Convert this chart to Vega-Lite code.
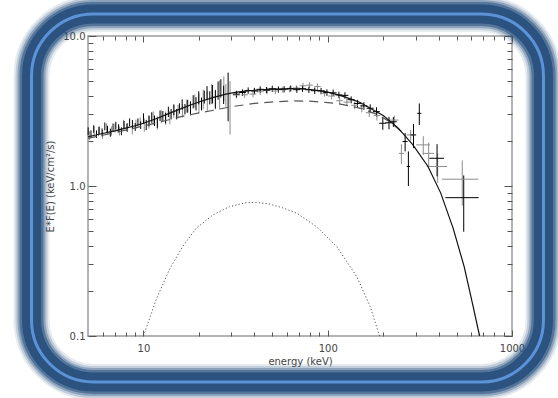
{
  "$schema": "https://vega.github.io/schema/vega-lite/v6.json",
  "width": 424,
  "height": 300,
  "autosize": {"type": "none"},
  "padding": {"left": 88, "top": 36, "right": 46, "bottom": 62},
  "background": "white",
  "config": {
    "view": {"stroke": "#9a9a9a", "strokeWidth": 1.5},
    "axis": {"domain": false, "grid": false, "zindex": 1, "labelFont": "DejaVu Sans", "titleFont": "DejaVu Sans", "labelFontSize": 10, "titleFontSize": 10, "titleFontWeight": "normal", "labelColor": "#444444", "titleColor": "#444444", "tickColor": "#555555", "tickWidth": 1, "labelFlush": false, "labelOverlap": false}
  },
  "datasets": {
    "frame": [{"name": "frame"}],
    "total": [
      {"e": 5, "f": 2.13}, {"e": 6, "f": 2.24}, {"e": 7, "f": 2.33}, {"e": 8, "f": 2.43}, {"e": 9, "f": 2.52}, {"e": 10, "f": 2.62}, {"e": 12, "f": 2.84}, {"e": 14, "f": 3.07}, {"e": 16, "f": 3.28}, {"e": 18, "f": 3.47}, {"e": 20, "f": 3.63}, {"e": 24, "f": 3.9}, {"e": 28, "f": 4.1}, {"e": 32, "f": 4.22}, {"e": 40, "f": 4.35}, {"e": 50, "f": 4.42}, {"e": 60, "f": 4.45}, {"e": 70, "f": 4.45}, {"e": 80, "f": 4.4}, {"e": 90, "f": 4.32}, {"e": 100, "f": 4.22}, {"e": 110, "f": 4.1}, {"e": 120, "f": 3.97}, {"e": 135, "f": 3.78}, {"e": 150, "f": 3.6}, {"e": 170, "f": 3.3}, {"e": 200, "f": 2.95}, {"e": 240, "f": 2.45}, {"e": 290, "f": 1.88}, {"e": 350, "f": 1.35}, {"e": 410, "f": 0.9}, {"e": 480, "f": 0.52}, {"e": 550, "f": 0.29}, {"e": 610, "f": 0.165}, {"e": 667, "f": 0.1}
    ],
    "comp": [
      {"e": 5, "f": 2.08}, {"e": 6, "f": 2.18}, {"e": 7, "f": 2.27}, {"e": 8, "f": 2.36}, {"e": 10, "f": 2.51}, {"e": 12, "f": 2.65}, {"e": 14, "f": 2.78}, {"e": 16, "f": 2.9}, {"e": 20, "f": 3.07}, {"e": 24, "f": 3.2}, {"e": 30, "f": 3.38}, {"e": 40, "f": 3.55}, {"e": 53, "f": 3.65}, {"e": 65, "f": 3.69}, {"e": 80, "f": 3.68}, {"e": 100, "f": 3.6}, {"e": 112, "f": 3.55}, {"e": 130, "f": 3.43}, {"e": 150, "f": 3.3}, {"e": 170, "f": 3.12}, {"e": 190, "f": 2.97}, {"e": 220, "f": 2.64}, {"e": 250, "f": 2.32}
    ],
    "refl": [
      {"e": 10, "f": 0.1}, {"e": 11.7, "f": 0.174}, {"e": 13.8, "f": 0.276}, {"e": 16.3, "f": 0.394}, {"e": 19.3, "f": 0.522}, {"e": 23.8, "f": 0.641}, {"e": 29.3, "f": 0.728}, {"e": 36, "f": 0.774}, {"e": 41, "f": 0.778}, {"e": 48, "f": 0.759}, {"e": 57, "f": 0.715}, {"e": 68, "f": 0.658}, {"e": 87, "f": 0.535}, {"e": 112, "f": 0.394}, {"e": 144, "f": 0.248}, {"e": 170, "f": 0.157}, {"e": 191, "f": 0.1}
    ],
    "pts": [
      {"s": "B", "e": 5.1, "de": 0, "f": 2.17, "df": 0.15},
      {"s": "B", "e": 5.4, "de": 0, "f": 2.34, "df": 0.16},
      {"s": "B", "e": 5.7, "de": 0, "f": 2.31, "df": 0.16},
      {"s": "B", "e": 6.0, "de": 0, "f": 2.21, "df": 0.15},
      {"s": "B", "e": 6.3, "de": 0, "f": 2.44, "df": 0.17},
      {"s": "B", "e": 6.7, "de": 0, "f": 2.33, "df": 0.16},
      {"s": "B", "e": 7.0, "de": 0, "f": 2.44, "df": 0.17},
      {"s": "B", "e": 7.4, "de": 0, "f": 2.33, "df": 0.16},
      {"s": "B", "e": 7.8, "de": 0, "f": 2.58, "df": 0.18},
      {"s": "B", "e": 8.2, "de": 0, "f": 2.46, "df": 0.17},
      {"s": "B", "e": 8.7, "de": 0, "f": 2.38, "df": 0.17},
      {"s": "B", "e": 9.1, "de": 0, "f": 2.59, "df": 0.18},
      {"s": "B", "e": 9.6, "de": 0, "f": 2.68, "df": 0.19},
      {"s": "B", "e": 10.1, "de": 0, "f": 2.56, "df": 0.26},
      {"s": "B", "e": 10.7, "de": 0, "f": 2.69, "df": 0.27},
      {"s": "B", "e": 11.3, "de": 0, "f": 2.85, "df": 0.29},
      {"s": "B", "e": 11.9, "de": 0, "f": 2.65, "df": 0.27},
      {"s": "B", "e": 12.5, "de": 0, "f": 2.91, "df": 0.29},
      {"s": "B", "e": 13.2, "de": 0, "f": 2.85, "df": 0.29},
      {"s": "B", "e": 13.9, "de": 0, "f": 2.87, "df": 0.29},
      {"s": "B", "e": 14.6, "de": 0, "f": 3.17, "df": 0.32},
      {"s": "B", "e": 15.4, "de": 0, "f": 3.15, "df": 0.32},
      {"s": "B", "e": 16.3, "de": 0, "f": 3.18, "df": 0.32},
      {"s": "B", "e": 17.1, "de": 0, "f": 3.42, "df": 0.34},
      {"s": "B", "e": 18.0, "de": 0, "f": 3.27, "df": 0.33},
      {"s": "B", "e": 19.0, "de": 0, "f": 3.7, "df": 0.37},
      {"s": "B", "e": 20.0, "de": 0, "f": 3.59, "df": 0.54},
      {"s": "B", "e": 21.1, "de": 0, "f": 3.82, "df": 0.57},
      {"s": "B", "e": 22.2, "de": 0, "f": 3.74, "df": 0.56},
      {"s": "B", "e": 23.4, "de": 0, "f": 4.14, "df": 0.62},
      {"s": "B", "e": 24.6, "de": 0, "f": 3.82, "df": 0.57},
      {"s": "B", "e": 25.9, "de": 0, "f": 4.15, "df": 0.9},
      {"s": "B", "e": 27.3, "de": 0, "f": 4.53, "df": 0.85},
      {"s": "B", "e": 28.0, "de": 0, "f": 4.08, "df": 0.7},
      {"s": "B", "e": 29.5, "de": 0, "f": 3.6, "df": 1.4},
      {"s": "B", "e": 31.9, "de": 1.4, "f": 4.04, "df": 0.2},
      {"s": "B", "e": 35.4, "de": 1.5, "f": 4.06, "df": 0.2},
      {"s": "B", "e": 39.3, "de": 1.7, "f": 4.1, "df": 0.2},
      {"s": "B", "e": 43, "de": 1.9, "f": 4.25, "df": 0.2},
      {"s": "B", "e": 47, "de": 2.0, "f": 4.33, "df": 0.2},
      {"s": "B", "e": 52, "de": 2.2, "f": 4.3, "df": 0.2},
      {"s": "B", "e": 57, "de": 2.4, "f": 4.38, "df": 0.2},
      {"s": "B", "e": 62, "de": 2.6, "f": 4.42, "df": 0.2},
      {"s": "B", "e": 67.5, "de": 2.8, "f": 4.5, "df": 0.2},
      {"s": "B", "e": 73.4, "de": 3.1, "f": 4.66, "df": 0.22},
      {"s": "B", "e": 79.7, "de": 3.3, "f": 4.7, "df": 0.22},
      {"s": "B", "e": 88, "de": 3.6, "f": 4.6, "df": 0.22},
      {"s": "B", "e": 96, "de": 4, "f": 4.15, "df": 0.2},
      {"s": "B", "e": 105, "de": 4.4, "f": 3.98, "df": 0.2},
      {"s": "B", "e": 116, "de": 4.8, "f": 3.7, "df": 0.2},
      {"s": "B", "e": 127, "de": 5.2, "f": 3.62, "df": 0.2},
      {"s": "B", "e": 140, "de": 5.8, "f": 3.45, "df": 0.2},
      {"s": "B", "e": 153, "de": 6.3, "f": 3.3, "df": 0.2},
      {"s": "B", "e": 168, "de": 7, "f": 3.08, "df": 0.2},
      {"s": "B", "e": 185, "de": 7.7, "f": 2.95, "df": 0.22},
      {"s": "B", "e": 230, "de": 12, "f": 2.75, "df": 0.2},
      {"s": "B", "e": 251, "de": 8, "f": 1.65, "df": 0.25},
      {"s": "B", "e": 282, "de": 14, "f": 2.19, "df": 0.18},
      {"s": "B", "e": 330, "de": 28, "f": 1.88, "df": 0.27},
      {"s": "B", "e": 353, "de": 25, "f": 1.65, "df": 0.3},
      {"s": "B", "e": 395, "de": 50, "f": 1.35, "df": 0.3},
      {"s": "B", "e": 537, "de": 120, "f": 1.11, "df": 0.37},
      {"s": "A", "e": 5.01, "de": 0, "f": 2.32, "df": 0.14},
      {"s": "A", "e": 5.19, "de": 0, "f": 2.22, "df": 0.13},
      {"s": "A", "e": 5.37, "de": 0, "f": 2.4, "df": 0.14},
      {"s": "A", "e": 5.56, "de": 0, "f": 2.22, "df": 0.13},
      {"s": "A", "e": 5.75, "de": 0, "f": 2.35, "df": 0.14},
      {"s": "A", "e": 5.96, "de": 0, "f": 2.28, "df": 0.14},
      {"s": "A", "e": 6.17, "de": 0, "f": 2.5, "df": 0.15},
      {"s": "A", "e": 6.38, "de": 0, "f": 2.38, "df": 0.14},
      {"s": "A", "e": 6.61, "de": 0, "f": 2.27, "df": 0.14},
      {"s": "A", "e": 6.84, "de": 0, "f": 2.46, "df": 0.15},
      {"s": "A", "e": 7.08, "de": 0, "f": 2.53, "df": 0.15},
      {"s": "A", "e": 7.33, "de": 0, "f": 2.43, "df": 0.15},
      {"s": "A", "e": 7.59, "de": 0, "f": 2.32, "df": 0.14},
      {"s": "A", "e": 7.85, "de": 0, "f": 2.56, "df": 0.15},
      {"s": "A", "e": 8.13, "de": 0, "f": 2.46, "df": 0.15},
      {"s": "A", "e": 8.41, "de": 0, "f": 2.66, "df": 0.16},
      {"s": "A", "e": 8.71, "de": 0, "f": 2.59, "df": 0.16},
      {"s": "A", "e": 9.02, "de": 0, "f": 2.48, "df": 0.15},
      {"s": "A", "e": 9.33, "de": 0, "f": 2.66, "df": 0.16},
      {"s": "A", "e": 9.66, "de": 0, "f": 2.55, "df": 0.15},
      {"s": "A", "e": 10.0, "de": 0, "f": 2.82, "df": 0.23},
      {"s": "A", "e": 10.35, "de": 0, "f": 2.56, "df": 0.2},
      {"s": "A", "e": 10.72, "de": 0, "f": 2.72, "df": 0.22},
      {"s": "A", "e": 11.09, "de": 0, "f": 2.87, "df": 0.23},
      {"s": "A", "e": 11.48, "de": 0, "f": 2.73, "df": 0.22},
      {"s": "A", "e": 11.89, "de": 0, "f": 2.65, "df": 0.21},
      {"s": "A", "e": 12.3, "de": 0, "f": 2.95, "df": 0.24},
      {"s": "A", "e": 12.74, "de": 0, "f": 2.93, "df": 0.23},
      {"s": "A", "e": 13.18, "de": 0, "f": 2.84, "df": 0.23},
      {"s": "A", "e": 13.65, "de": 0, "f": 3.13, "df": 0.25},
      {"s": "A", "e": 14.13, "de": 0, "f": 3.02, "df": 0.24},
      {"s": "A", "e": 14.62, "de": 0, "f": 3.23, "df": 0.26},
      {"s": "A", "e": 15.14, "de": 0, "f": 3.02, "df": 0.24},
      {"s": "A", "e": 15.67, "de": 0, "f": 3.3, "df": 0.26},
      {"s": "A", "e": 16.22, "de": 0, "f": 3.5, "df": 0.28},
      {"s": "A", "e": 16.79, "de": 0, "f": 3.26, "df": 0.26},
      {"s": "A", "e": 17.38, "de": 0, "f": 3.42, "df": 0.34},
      {"s": "A", "e": 17.99, "de": 0, "f": 3.34, "df": 0.33},
      {"s": "A", "e": 18.62, "de": 0, "f": 3.66, "df": 0.37},
      {"s": "A", "e": 19.28, "de": 0, "f": 3.55, "df": 0.36},
      {"s": "A", "e": 19.95, "de": 0, "f": 3.89, "df": 0.39},
      {"s": "A", "e": 20.65, "de": 0, "f": 3.54, "df": 0.35},
      {"s": "A", "e": 21.38, "de": 0, "f": 3.93, "df": 0.39},
      {"s": "A", "e": 22.13, "de": 0, "f": 4.21, "df": 0.42},
      {"s": "A", "e": 22.91, "de": 0, "f": 3.89, "df": 0.39},
      {"s": "A", "e": 23.71, "de": 0, "f": 4.13, "df": 0.58},
      {"s": "A", "e": 24.55, "de": 0, "f": 3.82, "df": 0.53},
      {"s": "A", "e": 25.41, "de": 0, "f": 4.37, "df": 0.61},
      {"s": "A", "e": 26.3, "de": 0, "f": 4.52, "df": 0.63},
      {"s": "A", "e": 27.23, "de": 0, "f": 4.09, "df": 0.57},
      {"s": "A", "e": 28.8, "de": 0, "f": 4.2, "df": 1.5},
      {"s": "A", "e": 32, "de": 1.4, "f": 4.1, "df": 0.21},
      {"s": "A", "e": 34.5, "de": 1.5, "f": 4.2, "df": 0.21},
      {"s": "A", "e": 37, "de": 1.6, "f": 4.33, "df": 0.21},
      {"s": "A", "e": 40, "de": 1.8, "f": 4.3, "df": 0.21},
      {"s": "A", "e": 43, "de": 1.9, "f": 4.41, "df": 0.21},
      {"s": "A", "e": 46.5, "de": 2, "f": 4.36, "df": 0.21},
      {"s": "A", "e": 50, "de": 2.2, "f": 4.45, "df": 0.21},
      {"s": "A", "e": 54, "de": 2.4, "f": 4.4, "df": 0.21},
      {"s": "A", "e": 58, "de": 2.6, "f": 4.42, "df": 0.21},
      {"s": "A", "e": 63, "de": 2.8, "f": 4.47, "df": 0.21},
      {"s": "A", "e": 68, "de": 3, "f": 4.39, "df": 0.21},
      {"s": "A", "e": 73, "de": 3.2, "f": 4.45, "df": 0.21},
      {"s": "A", "e": 79, "de": 3.5, "f": 4.38, "df": 0.21},
      {"s": "A", "e": 85, "de": 3.8, "f": 4.32, "df": 0.21},
      {"s": "A", "e": 92, "de": 4, "f": 4.3, "df": 0.21},
      {"s": "A", "e": 99, "de": 4.4, "f": 4.2, "df": 0.21},
      {"s": "A", "e": 107, "de": 4.7, "f": 4.18, "df": 0.21},
      {"s": "A", "e": 115, "de": 5, "f": 4.05, "df": 0.2},
      {"s": "A", "e": 124, "de": 5.5, "f": 4.02, "df": 0.2},
      {"s": "A", "e": 134, "de": 6, "f": 3.76, "df": 0.2},
      {"s": "A", "e": 145, "de": 6.4, "f": 3.55, "df": 0.2},
      {"s": "A", "e": 157, "de": 7, "f": 3.42, "df": 0.2},
      {"s": "A", "e": 170, "de": 7.5, "f": 3.3, "df": 0.2},
      {"s": "A", "e": 184, "de": 8, "f": 3.13, "df": 0.22},
      {"s": "A", "e": 199, "de": 8.8, "f": 2.62, "df": 0.25},
      {"s": "A", "e": 215, "de": 9.5, "f": 2.64, "df": 0.25},
      {"s": "A", "e": 227, "de": 10, "f": 2.68, "df": 0.2},
      {"s": "A", "e": 263, "de": 8, "f": 1.98, "df": 0.28},
      {"s": "A", "e": 274, "de": 6, "f": 1.35, "df": 0.35},
      {"s": "A", "e": 292, "de": 10, "f": 2.19, "df": 0.4},
      {"s": "A", "e": 314, "de": 8, "f": 3.05, "df": 0.5},
      {"s": "A", "e": 392, "de": 36, "f": 1.53, "df": 0.37},
      {"s": "A", "e": 547, "de": 112, "f": 0.836, "df": 0.34}
    ]
  },
  "resolve": {"axis": {"x": "independent", "y": "independent"}},
  "layer": [
    {
      "data": {"name": "frame"},
      "mark": {"type": "rect", "filled": false, "stroke": "#2e5784", "strokeWidth": 36, "strokeOpacity": 0.12, "cornerRadius": 62, "clip": false},
      "encoding": {
        "x": {"datum": 2.468, "type": "quantitative", "scale": {"type": "log", "domain": [5, 1000], "nice": false}, "axis": null},
        "x2": {"datum": 1482},
        "y": {"datum": 14.02, "type": "quantitative", "scale": {"type": "log", "domain": [0.1, 10], "nice": false}, "axis": null},
        "y2": {"datum": 0.04937}
      }
    },
    {
      "data": {"name": "frame"},
      "mark": {"type": "rect", "filled": false, "stroke": "#2e5784", "strokeWidth": 32, "strokeOpacity": 0.2, "cornerRadius": 62, "clip": false},
      "encoding": {
        "x": {"datum": 2.468, "type": "quantitative", "scale": {"type": "log", "domain": [5, 1000], "nice": false}, "axis": null},
        "x2": {"datum": 1482},
        "y": {"datum": 14.02, "type": "quantitative", "scale": {"type": "log", "domain": [0.1, 10], "nice": false}, "axis": null},
        "y2": {"datum": 0.04937}
      }
    },
    {
      "data": {"name": "frame"},
      "mark": {"type": "rect", "filled": false, "stroke": "#2e5784", "strokeWidth": 28, "strokeOpacity": 0.35, "cornerRadius": 62, "clip": false},
      "encoding": {
        "x": {"datum": 2.468, "type": "quantitative", "scale": {"type": "log", "domain": [5, 1000], "nice": false}, "axis": null},
        "x2": {"datum": 1482},
        "y": {"datum": 14.02, "type": "quantitative", "scale": {"type": "log", "domain": [0.1, 10], "nice": false}, "axis": null},
        "y2": {"datum": 0.04937}
      }
    },
    {
      "data": {"name": "frame"},
      "mark": {"type": "rect", "filled": false, "stroke": "#2e5784", "strokeWidth": 24, "strokeOpacity": 0.6, "cornerRadius": 62, "clip": false},
      "encoding": {
        "x": {"datum": 2.468, "type": "quantitative", "scale": {"type": "log", "domain": [5, 1000], "nice": false}, "axis": null},
        "x2": {"datum": 1482},
        "y": {"datum": 14.02, "type": "quantitative", "scale": {"type": "log", "domain": [0.1, 10], "nice": false}, "axis": null},
        "y2": {"datum": 0.04937}
      }
    },
    {
      "data": {"name": "frame"},
      "mark": {"type": "rect", "filled": false, "stroke": "#2c5280", "strokeWidth": 19, "cornerRadius": 62, "clip": false},
      "encoding": {
        "x": {"datum": 2.468, "type": "quantitative", "scale": {"type": "log", "domain": [5, 1000], "nice": false}, "axis": null},
        "x2": {"datum": 1482},
        "y": {"datum": 14.02, "type": "quantitative", "scale": {"type": "log", "domain": [0.1, 10], "nice": false}, "axis": null},
        "y2": {"datum": 0.04937}
      }
    },
    {
      "data": {"name": "frame"},
      "mark": {"type": "rect", "filled": false, "stroke": "#5b93d6", "strokeWidth": 3, "cornerRadius": 62, "clip": false},
      "encoding": {
        "x": {"datum": 2.468, "type": "quantitative", "scale": {"type": "log", "domain": [5, 1000], "nice": false}, "axis": null},
        "x2": {"datum": 1482},
        "y": {"datum": 14.02, "type": "quantitative", "scale": {"type": "log", "domain": [0.1, 10], "nice": false}, "axis": null},
        "y2": {"datum": 0.04937}
      }
    },
    {
      "data": {"name": "pts"},
      "mark": {"type": "errorbar", "thickness": 1},
      "encoding": {
        "x": {"field": "e", "type": "quantitative", "scale": {"type": "log", "domain": [5, 1000], "nice": false},
              "axis": {"orient": "top", "values": [10, 100, 1000], "labels": false, "title": null, "tickSize": -6}},
        "y": {"field": "f", "type": "quantitative", "scale": {"type": "log", "domain": [0.1, 10], "nice": false},
              "axis": {"orient": "right", "values": [0.1, 1, 10], "labels": false, "title": null, "tickSize": -8}},
        "yError": {"field": "df"},
        "color": {"field": "s", "type": "nominal", "scale": {"domain": ["A", "B"], "range": ["#000000", "#8c8c8c"]}, "legend": null}
      }
    },
    {
      "data": {"name": "pts"},
      "transform": [{"filter": "datum.de > 0"}],
      "mark": {"type": "errorbar", "thickness": 1},
      "encoding": {
        "x": {"field": "e", "type": "quantitative", "scale": {"type": "log", "domain": [5, 1000], "nice": false},
              "axis": {"orient": "top", "values": [6, 7, 8, 9, 20, 30, 40, 50, 60, 70, 80, 90, 200, 300, 400, 500, 600, 700, 800, 900], "labels": false, "title": null, "tickSize": -4}},
        "xError": {"field": "de"},
        "y": {"field": "f", "type": "quantitative", "scale": {"type": "log", "domain": [0.1, 10], "nice": false},
              "axis": {"orient": "right", "values": [0.2, 0.3, 0.4, 0.5, 0.6, 0.7, 0.8, 0.9, 2, 3, 4, 5, 6, 7, 8, 9], "labels": false, "title": null, "tickSize": -5}},
        "color": {"field": "s", "type": "nominal", "scale": {"domain": ["A", "B"], "range": ["#000000", "#8c8c8c"]}, "legend": null}
      }
    },
    {
      "data": {"name": "refl"},
      "mark": {"type": "line", "stroke": "#555555", "strokeWidth": 1, "strokeDash": [1.2, 2.2]},
      "encoding": {
        "x": {"field": "e", "type": "quantitative", "scale": {"type": "log", "domain": [5, 1000], "nice": false},
              "axis": {"orient": "bottom", "values": [6, 7, 8, 9, 20, 30, 40, 50, 60, 70, 80, 90, 200, 300, 400, 500, 600, 700, 800, 900], "labels": false, "title": null, "tickSize": -4}},
        "y": {"field": "f", "type": "quantitative", "scale": {"type": "log", "domain": [0.1, 10], "nice": false},
              "axis": {"orient": "left", "values": [0.2, 0.3, 0.4, 0.5, 0.6, 0.7, 0.8, 0.9, 2, 3, 4, 5, 6, 7, 8, 9], "labels": false, "title": null, "tickSize": -5}}
      }
    },
    {
      "data": {"name": "comp"},
      "mark": {"type": "line", "stroke": "#555555", "strokeWidth": 1.2, "strokeDash": [9, 6]},
      "encoding": {
        "x": {"field": "e", "type": "quantitative", "scale": {"type": "log", "domain": [5, 1000], "nice": false},
              "axis": {"orient": "bottom", "values": [10, 100, 1000], "labels": false, "title": null, "tickSize": -6}},
        "y": {"field": "f", "type": "quantitative", "scale": {"type": "log", "domain": [0.1, 10], "nice": false},
              "axis": {"orient": "left", "values": [0.1, 1, 10], "labels": false, "title": null, "tickSize": -8}}
      }
    },
    {
      "data": {"name": "total"},
      "mark": {"type": "line", "stroke": "#111111", "strokeWidth": 1.2},
      "encoding": {
        "x": {"field": "e", "type": "quantitative", "scale": {"type": "log", "domain": [5, 1000], "nice": false},
              "axis": {"orient": "bottom", "values": [10, 100, 1000], "format": "d", "ticks": false, "labelPadding": 7, "title": "energy (keV)", "titlePadding": 3}},
        "y": {"field": "f", "type": "quantitative", "scale": {"type": "log", "domain": [0.1, 10], "nice": false},
              "axis": {"orient": "left", "values": [0.1, 1, 10], "format": ".1f", "ticks": false, "labelPadding": 3, "title": "E*F(E)  (keV/cm²/s)", "titlePadding": 7}}
      }
    }
  ]
}
